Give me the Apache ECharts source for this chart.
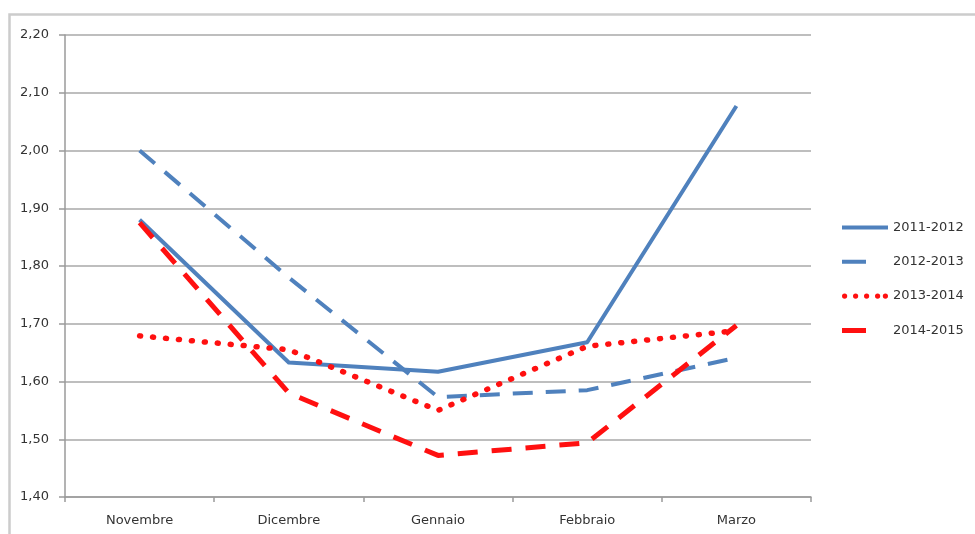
<!DOCTYPE html>
<html>
<head>
<meta charset="utf-8">
<script src="https://cdn.jsdelivr.net/npm/echarts@6/dist/echarts.min.js"></script>
<style>html,body{margin:0;padding:0;background:#fff}#c{width:975px;height:534px}</style>
</head>
<body>
<div id="c"></div>
<script>
const categories = ['Novembre', 'Dicembre', 'Gennaio', 'Febbraio', 'Marzo'];
const seriesNames = ['2011-2012', '2012-2013', '2013-2014', '2014-2015'];
const s2011 = [1.88, 1.633, 1.617, 1.668, 2.077];
const s2012 = [2.00, 1.78, 1.573, 1.585, 1.641];
const s2013 = [1.679, 1.655, 1.55, 1.661, 1.688];
const s2014 = [1.875, 1.58, 1.472, 1.494, 1.697];
const yMin = 1.4, yMax = 2.2, yStep = 0.1;

const font = 'DejaVu Sans';
const chart = echarts.init(document.getElementById('c'), null, {renderer: 'canvas'});
const blue = '#4f81bd', red = '#ff1010';

// legend icons (46 x 6 box)
const dot = x => `M${x},3a2.6,2.6 0 1,0 5.2,0a2.6,2.6 0 1,0 -5.2,0Z`;
const icons = [
  'path://M0,1H46V5H0Z M0,0L0,6',
  'path://M0,1H24V5H0Z M46,0L46,6',
  'path://' + [0, 11, 22, 33, 40.8].map(dot).join(' ') + ' M0,0L0,6',
  'path://M0,0.5H24V5.5H0Z M46,0L46,6'
];
const legendColors = [blue, blue, red, red];

chart.setOption({
  animation: false,
  backgroundColor: '#fff',
  graphic: [{
    type: 'rect', left: 7, top: 12, silent: true, z: -1,
    shape: {width: 1100, height: 700},
    style: {fill: 'none', stroke: '#cccccc', lineWidth: 2.5}
  }],
  grid: {left: 65, right: 164, top: 35, bottom: 37},
  legend: {
    orient: 'vertical', left: 837, top: 216, itemWidth: 46, itemHeight: 6, itemGap: 21.3,
    symbolKeepAspect: false,
    textStyle: {fontFamily: font, fontSize: 13, color: '#333'},
    data: seriesNames.map((n, i) => ({
      name: n, icon: icons[i],
      itemStyle: {color: legendColors[i], borderWidth: 0}
    }))
  },
  xAxis: {
    type: 'category', data: categories, boundaryGap: true,
    axisLine: {lineStyle: {color: '#9a9a9a', width: 1.5}},
    axisTick: {show: true, length: 5, lineStyle: {color: '#9a9a9a', width: 1.5}},
    axisLabel: {fontFamily: font, fontSize: 13, color: '#333', margin: 17}
  },
  yAxis: {
    type: 'value', min: yMin, max: yMax, interval: yStep,
    axisLine: {show: true, lineStyle: {color: '#9a9a9a', width: 1.5}},
    axisTick: {show: true, length: 6, lineStyle: {color: '#9a9a9a', width: 1.5}},
    splitLine: {lineStyle: {color: '#a8a8a8', width: 1.5}},
    axisLabel: {fontFamily: font, fontSize: 13, color: '#333', margin: 16,
      formatter: v => v.toFixed(2).replace('.', ',')}
  },
  series: [
    {name: seriesNames[0], type: 'line', data: s2011, symbol: 'none', z: 3,
      lineStyle: {color: blue, width: 4, type: 'solid', join: 'round'}, itemStyle: {color: blue}},
    {name: seriesNames[1], type: 'line', data: s2012, symbol: 'none', z: 2,
      lineStyle: {color: blue, width: 4, type: [20, 13], cap: 'butt'}, itemStyle: {color: blue}},
    {name: seriesNames[2], type: 'line', data: s2013, symbol: 'none', z: 4,
      lineStyle: {color: red, width: 5.5, type: [1, 12], cap: 'round'}, itemStyle: {color: red}},
    {name: seriesNames[3], type: 'line', data: s2014, symbol: 'none', z: 5,
      lineStyle: {color: red, width: 5, type: [20, 14], cap: 'butt'}, itemStyle: {color: red}}
  ]
});
</script>
</body>
</html>
